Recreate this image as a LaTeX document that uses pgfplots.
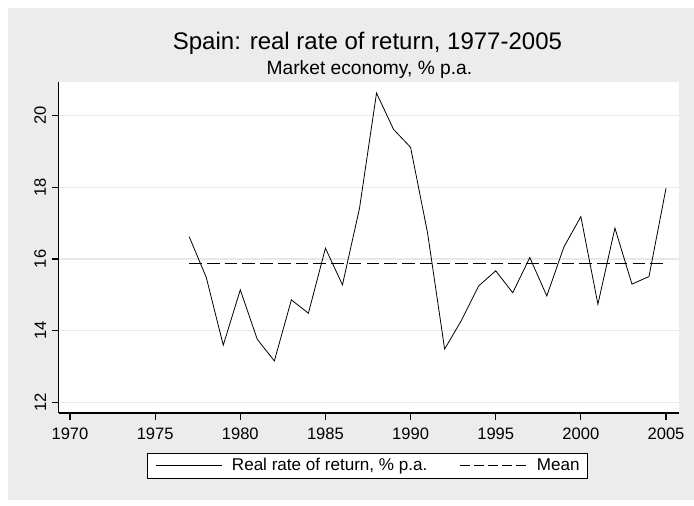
\documentclass[border=0pt]{standalone}
\usepackage{pgfplots}
\pgfplotsset{compat=1.18}
\usepackage{fontspec}
\setmainfont{Liberation Sans}
\definecolor{bggray}{RGB}{236,236,236}
\definecolor{gridgray}{RGB}{232,232,232}

\pgfplotsset{
    solidleg/.style={legend image code/.code={\draw[##1] (0pt,0pt) -- (49.3pt,0pt);}},
    meanleg/.style={legend image code/.code={\draw[##1, dash pattern=on 7.5pt off 3pt] (0pt,0pt) -- (49.5pt,0pt);}},
}

\begin{document}
\begin{tikzpicture}
% page: 694 x 506 px at 0.75pt per px
\fill[white] (0,0) rectangle (520.5pt,379.5pt);
\fill[bggray] (6pt,4.5pt) rectangle (520.5pt,373.5pt);

\begin{axis}[
    at={(44.1pt,69.75pt)}, anchor=south west,
    scale only axis,
    width=465.15pt, height=248.25pt,
    xmin=1969.342, xmax=2005.763,
    ymin=11.71, ymax=20.93,
    axis x line*=bottom, axis y line*=left,
    axis line style={line width=0.8pt, -},
    axis background/.style={fill=white},
    xtick={1970,1975,...,2005},
    ytick={12,14,...,20},
    tick align=outside,
    major tick length=5.25pt,
    tick style={line width=0.8pt, black},
    ymajorgrids=true,
    grid style={gridgray, line width=0.8pt},
    /pgf/number format/assume math mode=true,
    /pgf/number format/1000 sep={},
    ticklabel style={font=\fontsize{12.4}{14}\selectfont, inner sep=0pt},
    yticklabel style={rotate=90, anchor=south},
    xticklabel style={anchor=north},
    yticklabel shift=4.1pt,
    xticklabel shift=6pt,
    legend columns=2,
    legend style={at={(0.4977,-0.1199)}, anchor=north,
        draw=black, line width=0.75pt, fill=white,
        font=\fontsize{12.8}{15}\selectfont,
        inner xsep=5.8pt, inner ysep=4pt,
        nodes={inner sep=0pt},
        /tikz/every odd column/.append style={column sep=7.5pt},
        /tikz/every even column/.append style={column sep=24.5pt}},
]
\addplot[black, line width=0.6pt, solidleg] coordinates {
    (1977,16.62) (1978,15.49) (1979,13.60) (1980,15.14) (1981,13.76)
    (1982,13.16) (1983,14.86) (1984,14.49) (1985,16.30) (1986,15.28)
    (1987,17.41) (1988,20.62) (1989,19.61) (1990,19.11) (1991,16.72)
    (1992,13.49) (1993,14.30) (1994,15.25) (1995,15.67) (1996,15.06)
    (1997,16.04) (1998,14.97) (1999,16.33) (2000,17.18) (2001,14.74)
    (2002,16.86) (2003,15.30) (2004,15.51) (2005,17.97)
};
\addlegendentry{Real rate of return, \% p.a.}

\addplot[black, line width=0.6pt, dash pattern=on 9.5pt off 3.8pt, meanleg]
    coordinates {(1977,15.89) (2005,15.89)};
\addlegendentry{Mean}
\end{axis}

\node[anchor=base, font=\fontsize{18}{20}\selectfont] at (275.6pt,342.5pt)
    {Spain: real rate of return, 1977-2005};
\node[anchor=base, font=\fontsize{14.4}{16}\selectfont] at (277.1pt,323.25pt)
    {Market economy, \% p.a.};
\end{tikzpicture}
\end{document}
